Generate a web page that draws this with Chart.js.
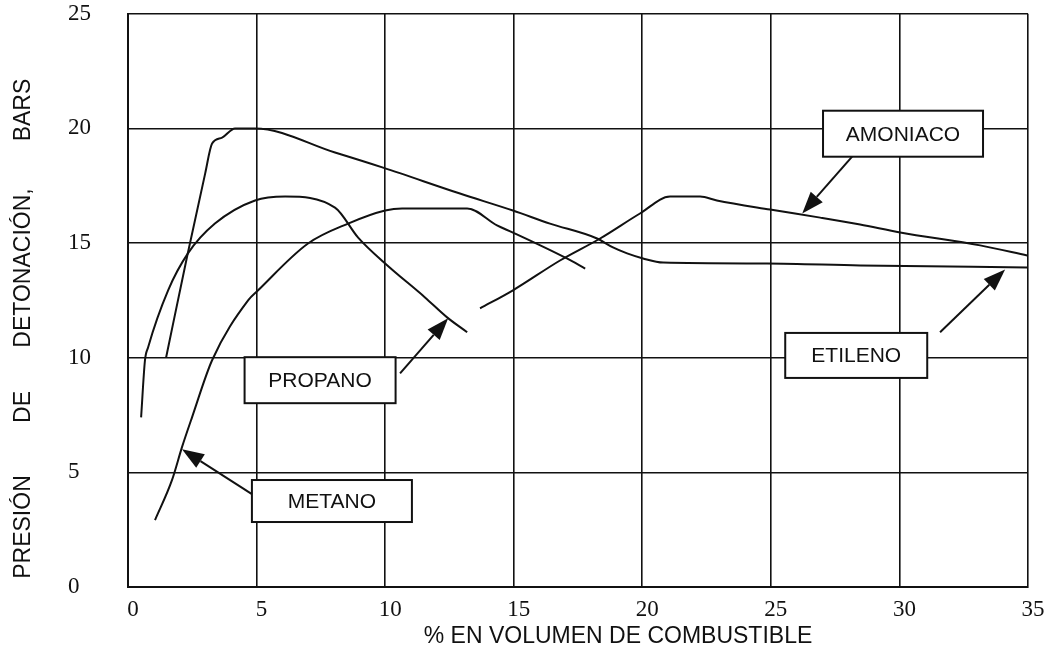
<!DOCTYPE html>
<html>
<head>
<meta charset="utf-8">
<script src="https://cdn.jsdelivr.net/npm/chart.js@4.4.0/dist/chart.umd.min.js"></script>
<style>
  html, body { margin: 0; padding: 0; background: #ffffff; }
  #wrap { width: 1054px; height: 658px; }
</style>
</head>
<body>
<div id="wrap"><canvas id="c" width="1054" height="658"></canvas></div>
<script>
// Axis ticks
const xTicks = [0, 5, 10, 15, 20, 25, 30, 35];
const yTicks = [0, 5, 10, 15, 20, 25];

// Detonation pressure (bar) vs % fuel by volume
const etilenoX = [1.48, 2.29, 3.0, 3.27, 3.66, 4.16, 4.94, 8.05, 9.92, 12.91, 14.97, 16.41, 18.24, 18.86, 19.41, 20.03, 20.81, 24.85, 28.47, 34.97];
const etilenoY = [10.0, 14.37, 18.03, 19.34, 19.6, 20.0, 20.0, 18.95, 18.29, 17.16, 16.42, 15.85, 15.2, 14.81, 14.55, 14.33, 14.15, 14.11, 14.02, 13.94];

const propanoX = [0.51, 0.66, 0.78, 1.56, 2.33, 3.38, 4.94, 6.11, 8.05, 8.95, 10.0, 11.55, 12.41, 13.19];
const propanoY = [7.4, 9.89, 10.45, 12.94, 14.55, 15.85, 16.86, 17.03, 16.55, 15.24, 14.11, 12.63, 11.76, 11.11];

const metanoX = [1.05, 1.71, 2.10, 2.49, 3.27, 4.67, 5.06, 7.0, 8.56, 10.0, 10.66, 13.19, 14.35, 14.97, 17.07, 17.78];
const metanoY = [2.92, 4.66, 6.10, 7.40, 9.89, 12.5, 12.94, 14.98, 15.85, 16.42, 16.51, 16.51, 15.77, 15.46, 14.33, 13.89];

const amoniacoX = [13.69, 14.97, 16.8, 18.36, 19.91, 21.08, 22.25, 22.9, 24.97, 26.92, 28.47, 30.03, 33.14, 34.97];
const amoniacoY = [12.15, 12.94, 14.24, 15.2, 16.29, 17.03, 17.03, 16.86, 16.46, 16.11, 15.81, 15.46, 14.9, 14.46];

// Callout labels: box centre, box size (px), arrow start and arrow tip, in data units
const labelNames = ['AMONIACO', 'PROPANO', 'METANO', 'ETILENO'];
const boxCenterX = [30.14, 7.47, 7.93, 28.32];
const boxCenterY = [19.77, 9.02, 3.75, 10.10];
const boxW = [160, 151, 160, 142];
const boxH = [46, 46, 42, 45];
const arrowFromX = [28.16, 10.58, 4.82, 31.58];
const arrowFromY = [18.77, 9.32, 4.05, 11.11];
const arrowTipX = [26.22, 12.45, 2.10, 34.11];
const arrowTipY = [16.29, 11.72, 6.01, 13.85];

const xTitle = '% EN VOLUMEN DE COMBUSTIBLE';
const yTitleWords = ['PRESIÓN', 'DE', 'DETONACIÓN,', 'BARS'];

const INK = '#111111';
const SANS = '"Liberation Sans", Arial, sans-serif';
const SERIF = '"Liberation Serif", "Times New Roman", serif';

function pts(xs, ys) { return xs.map((x, i) => ({ x: x, y: ys[i] })); }

function series(label, xs, ys) {
  return {
    label: label,
    data: pts(xs, ys),
    showLine: true,
    borderColor: INK,
    borderWidth: 2,
    pointRadius: 0,
    fill: false,
    cubicInterpolationMode: 'monotone'
  };
}

function arrow(ctx, x0, y0, x1, y1) {
  const ang = Math.atan2(y1 - y0, x1 - x0);
  const len = 22, half = 8;
  const bx = x1 - len * Math.cos(ang), by = y1 - len * Math.sin(ang);
  ctx.beginPath();
  ctx.moveTo(x0, y0);
  ctx.lineTo(bx, by);
  ctx.lineWidth = 2;
  ctx.strokeStyle = INK;
  ctx.stroke();
  ctx.beginPath();
  ctx.moveTo(x1, y1);
  ctx.lineTo(bx + half * Math.sin(ang), by - half * Math.cos(ang));
  ctx.lineTo(bx - half * Math.sin(ang), by + half * Math.cos(ang));
  ctx.closePath();
  ctx.fillStyle = INK;
  ctx.fill();
}

const callouts = {
  id: 'callouts',
  afterDatasetsDraw(chart) {
    const ctx = chart.ctx, xs = chart.scales.x, ys = chart.scales.y;
    ctx.save();
    labelNames.forEach((name, i) => {
      const cx = xs.getPixelForValue(boxCenterX[i]);
      const cy = ys.getPixelForValue(boxCenterY[i]);
      const w = boxW[i], h = boxH[i];
      ctx.fillStyle = '#ffffff';
      ctx.fillRect(cx - w / 2, cy - h / 2, w, h);
      ctx.lineWidth = 2;
      ctx.strokeStyle = INK;
      ctx.strokeRect(cx - w / 2, cy - h / 2, w, h);
      ctx.fillStyle = INK;
      ctx.font = '21px ' + SANS;
      ctx.textAlign = 'center';
      ctx.textBaseline = 'middle';
      ctx.fillText(name, cx, cy + 1);
      arrow(ctx,
        xs.getPixelForValue(arrowFromX[i]), ys.getPixelForValue(arrowFromY[i]),
        xs.getPixelForValue(arrowTipX[i]), ys.getPixelForValue(arrowTipY[i]));
    });
    ctx.restore();
  },
  afterDraw(chart) {
    const ctx = chart.ctx;
    ctx.save();
    ctx.fillStyle = INK;
    ctx.font = '23px ' + SANS;
    ctx.textAlign = 'center';
    ctx.textBaseline = 'middle';
    ctx.fillText(xTitle, 618, 637);
    // vertical title, words spread along the axis
    const centres = [527, 407, 268, 110];
    yTitleWords.forEach((wd, i) => {
      ctx.save();
      ctx.translate(24, centres[i]);
      ctx.rotate(-Math.PI / 2);
      ctx.fillText(wd, 0, 0);
      ctx.restore();
    });
    ctx.restore();
  }
};

new Chart(document.getElementById('c'), {
  type: 'scatter',
  data: {
    datasets: [
      series('ETILENO', etilenoX, etilenoY),
      series('PROPANO', propanoX, propanoY),
      series('METANO', metanoX, metanoY),
      series('AMONIACO', amoniacoX, amoniacoY)
    ]
  },
  options: {
    responsive: false,
    animation: false,
    devicePixelRatio: 1,
    layout: { padding: { top: 13, right: 26, left: 68, bottom: 0 } },
    plugins: { legend: { display: false }, tooltip: { enabled: false } },
    scales: {
      x: {
        type: 'linear',
        min: xTicks[0],
        max: xTicks[xTicks.length - 1],
        afterBuildTicks(scale) { scale.ticks = xTicks.map(v => ({ value: v })); },
        afterFit(scale) { scale.height = 71; },
        ticks: { color: INK, font: { family: SERIF, size: 23 }, padding: 9, labelOffset: 5, maxRotation: 0 },
        grid: { color: INK, lineWidth: 1.6, drawTicks: false },
        border: { display: true, color: INK, width: 2 }
      },
      y: {
        type: 'linear',
        min: yTicks[0],
        max: yTicks[yTicks.length - 1],
        afterBuildTicks(scale) { scale.ticks = yTicks.map(v => ({ value: v })); },
        afterFit(scale) { scale.width = 60; },
        ticks: { color: INK, font: { family: SERIF, size: 23 }, padding: 0, crossAlign: 'far' },
        grid: { color: INK, lineWidth: 1.6, drawTicks: false },
        border: { display: true, color: INK, width: 2 }
      }
    }
  },
  plugins: [callouts]
});
</script>
</body>
</html>
